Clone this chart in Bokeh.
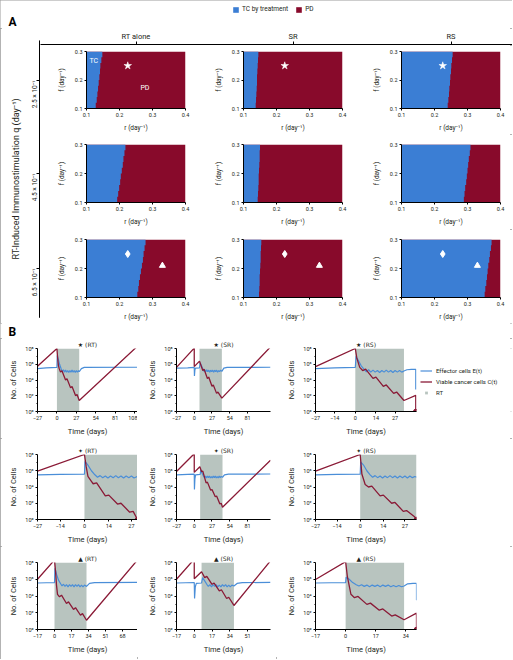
import math
from bokeh.plotting import figure
from bokeh.layouts import column, row
from bokeh.models import (Range1d, FixedTicker, Legend, LegendItem, Label,
                          Arrow, NormalHead)
from bokeh.embed import file_html
from bokeh.resources import INLINE

FONT = "Roboto"
TXT = "#231f20"
HM_BLUE = "#3b7ed4"
HM_RED = "#880a2b"
LN_BLUE = "#4a8ed8"
LN_RED = "#8a1a36"
RT_GREY = "#b8c4bf"
NAN = float("nan")

# ---------------------------------------------------------------- data (A)
legend_top = ["TC by treatment", "PD"]
strategies = ["RT alone", "SR", "RS"]
q_labels = ["2.5 × 10⁻¹", "4.5 × 10⁻¹", "6.5 × 10⁻¹"]
q_title = "RT-Induced Immunostimulation q (day⁻¹)"
r_limits = [0.1, 0.4]
f_limits = [0.1, 0.3]
r_ticks = [0.1, 0.2, 0.3, 0.4]
f_ticks = [0.1, 0.2, 0.3]
f_edges = [0.10, 0.12, 0.14, 0.16, 0.18, 0.20, 0.22, 0.24, 0.26, 0.28, 0.30]

# TC / PD boundary (r value) in each f band, bottom to top
bound_q25_RT = [0.128, 0.131, 0.133, 0.135, 0.137, 0.139, 0.141, 0.142, 0.145, 0.148]
bound_q25_SR = [0.137, 0.138, 0.139, 0.140, 0.141, 0.141, 0.142, 0.143, 0.144, 0.145]
bound_q25_RS = [0.240, 0.242, 0.244, 0.245, 0.247, 0.248, 0.250, 0.251, 0.253, 0.255]
bound_q45_RT = [0.193, 0.196, 0.199, 0.202, 0.204, 0.207, 0.210, 0.212, 0.215, 0.218]
bound_q45_SR = [0.143, 0.144, 0.145, 0.146, 0.146, 0.147, 0.148, 0.149, 0.149, 0.150]
bound_q45_RS = [0.289, 0.291, 0.293, 0.296, 0.298, 0.300, 0.302, 0.304, 0.307, 0.309]
bound_q65_RT = [0.254, 0.257, 0.259, 0.262, 0.265, 0.268, 0.271, 0.273, 0.276, 0.279]
bound_q65_SR = [0.147, 0.148, 0.149, 0.149, 0.150, 0.151, 0.152, 0.152, 0.153, 0.154]
bound_q65_RS = [0.352, 0.354, 0.357, 0.359, 0.361, 0.363, 0.366, 0.368, 0.371, 0.373]

star_rf = [0.225, 0.25]
diamond_rf = [0.225, 0.25]
triangle_rf = [0.33, 0.21]
tc_text_rf = [0.122, 0.267]
pd_text_rf = [0.277, 0.171]

# ---------------------------------------------------------------- data (B)
cell_ticks = [1, 1e2, 1e4, 1e6, 1e8]
cell_tick_labels = ["10⁰", "10²", "10⁴", "10⁶", "10⁸"]
cell_minor = [10, 1e3, 1e5, 1e7]
series_names = ["Effector cells E(t)", "Viable cancer cells C(t)", "RT"]

ticks_27_long = [-27, 0, 27, 54, 81, 108]
ticks_27_mid = [-27, 0, 27, 54, 81]
ticks_27_short = [-27, -14, 0, 14, 27]
ticks_17_long = [-17, 0, 17, 34, 51, 68]
ticks_17_mid = [-17, 0, 17, 34, 51]
ticks_17_short = [-17, 0, 17, 34]

# (time in days, log10 of number of cells)
C_star_RT = [(-27, 5.75), (0, 8.0), (1, 6.8), (2, 5.9), (3, 5.5), (5, 5.0), (7, 5.17), (12, 4.0),
             (14, 4.17), (19, 3.0), (21, 3.17), (26, 2.0), (28, 2.17), (31, 1.4), (112, 8.3)]
E_star_RT = [(-27, 5.45), (-15, 5.55), (0, 5.6), (0.5, 7.1), (2, 6.6), (4, 5.9), (6, 5.4), (7.5, 5.05),
             (9, 5.3), (10.5, 5.0), (12, 5.25), (13.5, 5.0), (15, 5.2), (16.5, 4.95), (18, 5.2),
             (19.5, 5.0), (21, 5.25), (22.5, 5.0), (24, 5.2), (25.5, 4.95), (27, 5.2), (28.5, 5.0),
             (30, 5.2), (31, 5.05), (34, 5.45), (38, 5.6), (112, 5.62)]
C_star_SR = [(-27, 5.6), (0, 8.05), (0, 5.7), (8, 6.4), (13, 5.2), (15, 5.37), (20, 4.2), (22, 4.37),
             (27, 3.2), (29, 3.37), (34, 2.3), (36, 2.47), (42, 1.7), (116, 8.2)]
E_star_SR = [(-27, 5.5), (-10, 5.55), (0, 5.6), (0.3, 4.5), (1, 5.3), (2, 5.5), (8, 5.55), (9, 6.2),
             (11, 5.8), (13, 5.4), (14.5, 5.1), (16, 5.3), (17.5, 5.05), (19, 5.3), (20.5, 5.05),
             (22, 5.25), (23.5, 5.0), (25, 5.25), (26.5, 5.05), (28, 5.25), (29.5, 5.0), (31, 5.25),
             (32.5, 5.05), (34, 5.25), (35.5, 5.0), (37, 5.2), (38.5, 5.05), (40, 5.25), (42, 5.1),
             (45, 5.5), (50, 5.6), (116, 5.62)]
C_star_RS = [(-27, 5.7), (0, 8.0), (1, 6.8), (3, 5.6), (5, 5.2), (7, 5.37), (12, 4.2), (14, 4.37),
             (19, 3.2), (21, 3.37), (26, 2.3), (28, 2.47), (33, 1.4), (41, 2.05), (41, 0.0)]
E_star_RS = [(-27, 5.45), (-14, 5.55), (0, 5.6), (0.5, 7.0), (2, 6.5), (4, 5.8), (6, 5.35), (7.5, 5.05),
             (9, 5.3), (10.5, 5.0), (12, 5.25), (13.5, 5.0), (15, 5.2), (16.5, 4.95), (18, 5.2),
             (19.5, 5.0), (21, 5.25), (22.5, 5.0), (24, 5.2), (25.5, 4.95), (27, 5.2), (28.5, 5.0),
             (30, 5.2), (31.5, 5.0), (33, 5.15), (35, 5.3), (38, 5.35), (41, 5.35), (41, 2.8)]
C_diam_RT = [(-27, 5.95), (0, 8.0), (1, 6.5), (2, 5.3), (4, 4.7), (5, 4.4), (7, 4.5), (12, 2.9),
             (14, 3.0), (19, 1.9), (21, 2.0), (26, 0.9), (28, 1.0), (30.5, 0.0)]
E_diam_RT = [(-27, 5.5), (-14, 5.55), (0, 5.58), (0.3, 7.15), (2, 6.7), (4, 6.0), (6, 5.5), (7.5, 5.2),
             (9, 5.4), (10.5, 5.15), (12, 5.35), (13.5, 5.1), (15, 5.35), (16.5, 5.15), (18, 5.4),
             (19.5, 5.15), (21, 5.35), (22.5, 5.1), (24, 5.35), (25.5, 5.15), (27, 5.35), (28.5, 5.1),
             (30.5, 5.3)]
C_diam_SR = [(-27, 5.9), (0, 8.1), (0, 5.8), (8.5, 6.5), (11, 5.9), (13, 5.95), (18, 4.5), (20, 4.6),
             (25, 3.6), (27, 3.7), (32, 2.8), (34, 2.9), (39, 1.9), (41, 2.0), (43, 1.5), (116, 7.3)]
E_diam_SR = [(-27, 5.5), (-10, 5.55), (0, 5.58), (0.3, 3.7), (1, 5.0), (2, 5.5), (9, 5.55), (10, 6.1),
             (12, 5.7), (14, 5.35), (15.5, 5.15), (17, 5.35), (18.5, 5.1), (20, 5.35), (21.5, 5.15),
             (23, 5.35), (24.5, 5.1), (26, 5.3), (27.5, 5.1), (29, 5.35), (30.5, 5.15), (32, 5.35),
             (33.5, 5.1), (35, 5.3), (36.5, 5.1), (38, 5.35), (39.5, 5.15), (41, 5.3), (43, 5.2),
             (46, 5.5), (52, 5.58), (116, 5.6)]
C_diam_RS = [(-27, 5.95), (0, 8.0), (1, 5.6), (3, 4.3), (5, 4.0), (7, 4.1), (12, 2.9), (14, 3.0),
             (19, 2.0), (21, 2.1), (26, 1.0), (28, 1.1), (33, 0.3), (34, 0.0)]
E_diam_RS = [(-27, 5.5), (-14, 5.55), (0, 5.58), (0.3, 7.1), (2, 6.7), (4, 6.0), (6, 5.5), (7.5, 5.2),
             (9, 5.4), (10.5, 5.15), (12, 5.35), (13.5, 5.1), (15, 5.35), (16.5, 5.15), (18, 5.4),
             (19.5, 5.15), (21, 5.35), (22.5, 5.1), (24, 5.35), (25.5, 5.15), (27, 5.35), (28.5, 5.1),
             (30, 5.35), (31.5, 5.15), (33, 5.3), (34, 5.2)]
C_tri_RT = [(-17, 6.0), (0, 8.3), (1, 7.0), (2, 5.3), (3, 4.2), (5, 3.9), (7, 4.1), (12, 3.1), (14, 3.3),
            (19, 2.4), (21, 2.6), (26, 1.7), (28, 1.9), (32, 1.1), (83, 8.3)]
E_tri_RT = [(-17, 5.55), (-8, 5.58), (0, 5.6), (0.5, 7.3), (2, 6.6), (4, 5.9), (6, 5.5), (7.5, 5.2),
            (9, 5.4), (10.5, 5.15), (12, 5.35), (13.5, 5.1), (15, 5.35), (16.5, 5.15), (18, 5.35),
            (19.5, 5.1), (21, 5.35), (22.5, 5.15), (24, 5.35), (25.5, 5.1), (27, 5.3), (28.5, 5.1),
            (30, 5.3), (32, 5.15), (35, 5.5), (40, 5.6), (83, 5.62)]
C_tri_SR = [(-17, 6.0), (0, 8.4), (0, 6.05), (7, 6.9), (10, 6.2), (12, 6.35), (17, 5.4), (19, 5.55),
            (24, 4.6), (26, 4.75), (31, 3.7), (33, 3.85), (38, 2.87), (73, 8.2)]
E_tri_SR = [(-17, 5.55), (-8, 5.58), (0, 5.6), (0.3, 3.7), (1, 5.1), (2, 5.5), (7, 5.55), (8, 6.2),
            (10, 5.8), (12, 5.4), (13.5, 5.15), (15, 5.35), (16.5, 5.1), (18, 5.35), (19.5, 5.15),
            (21, 5.35), (22.5, 5.1), (24, 5.3), (25.5, 5.1), (27, 5.35), (28.5, 5.15), (30, 5.35),
            (31.5, 5.1), (33, 5.3), (34.5, 5.1), (36, 5.3), (38, 5.2), (41, 5.5), (46, 5.6), (73, 5.62)]
C_tri_RS = [(-17, 5.97), (0, 8.1), (1, 6.3), (3, 4.2), (5, 3.8), (7, 3.95), (12, 3.0), (14, 3.15),
            (19, 2.3), (21, 2.45), (26, 1.6), (28, 1.75), (33, 1.16), (40, 1.95), (40, 0.0)]
E_tri_RS = [(-17, 5.55), (-8, 5.58), (0, 5.6), (0.3, 6.25), (2, 6.0), (4, 5.6), (6, 5.35), (7.5, 5.2),
            (9, 5.35), (10.5, 5.15), (12, 5.3), (13.5, 5.1), (15, 5.3), (16.5, 5.15), (18, 5.3),
            (19.5, 5.1), (21, 5.3), (22.5, 5.15), (24, 5.3), (25.5, 5.1), (27, 5.25), (28.5, 5.1),
            (30, 5.25), (31.5, 5.1), (33, 5.2), (35, 5.45), (38, 5.5), (40, 5.5), (40, 3.5)]

rt_star = [(0, 31), (8, 42), (0, 33)]
rt_diam = [(0, 30.5), (9, 43), (0, 34)]
rt_tri = [(0, 32), (7, 38), (0, 33)]
trange_star = [(-27, 112), (-27, 116), (-27, 41.5)]
trange_diam = [(-27, 30.5), (-27, 116), (-27, 34)]
trange_tri = [(-17, 83), (-17, 73), (-17, 40)]
extinct_star = [None, None, 41]
extinct_diam = [30.5, None, 34]
extinct_tri = [None, None, 40]
marker_symbols = ["★", "✦", "▲"]
strategy_codes = ["RT", "SR", "RS"]

# ---------------------------------------------------------------- layout (px)
PAGE_W = 512
A_H = 28
HDR_H, HDR_BT = 17, 12
LS_W = 40
HM_W = [157, 157, 158]
HM_BL = [46, 46, 47]
HM_BR = [12, 12, 12]
HM_H = [89, 95, 94]
HM_BT = [6, 10, 10]
HM_BB = [25, 27, 26]
B_H = 15
TB_W = [[137, 139, 141], [137, 139, 236], [137, 139, 236]]
TB_BL = [37, 39, 39]
TB_BR = [[0, 6, 1], [0, 6, 96], [0, 6, 96]]
LEG_W = 95
TB_H = [100, 108, 113]
TB_BT = [8, 16, 16]
TB_BB = [25, 25, 30]


def style_axis(ax, label_size="5.5px", title_size="6.5px"):
    ax.axis_line_color = "black"
    ax.major_tick_line_color = "black"
    ax.minor_tick_line_color = "black"
    ax.major_label_text_font = FONT
    ax.major_label_text_font_size = label_size
    ax.major_label_text_color = TXT
    ax.axis_label_text_font = FONT
    ax.axis_label_text_font_size = title_size
    ax.axis_label_text_font_style = "normal"
    ax.axis_label_text_color = TXT


def blank_strip(width, height):
    p = figure(width=width, height=height, output_backend="svg", toolbar_location=None,
               x_range=Range1d(0, 1), y_range=Range1d(0, 1),
               x_axis_location=None, y_axis_location=None,
               min_border_left=0, min_border_right=0, min_border_top=0, min_border_bottom=0)
    p.outline_line_color = None
    p.grid.visible = False
    return p


# ---------------------------------------------------------------- "A" strip with legend
a_strip = blank_strip(PAGE_W, A_H)
r_tc = a_strip.quad(left=[NAN], right=[NAN], top=[NAN], bottom=[NAN], fill_color=HM_BLUE, line_color=None)
r_pd = a_strip.quad(left=[NAN], right=[NAN], top=[NAN], bottom=[NAN], fill_color=HM_RED, line_color=None)
leg_top = Legend(items=[LegendItem(label=legend_top[0], renderers=[r_tc]),
                        LegendItem(label=legend_top[1], renderers=[r_pd])],
                 orientation="horizontal", location=(232, 15),
                 label_text_font=FONT, label_text_font_size="6.5px", label_text_color=TXT,
                 label_height=7, glyph_width=7, glyph_height=7, label_standoff=3, spacing=7,
                 padding=0, margin=0, border_line_color=None, background_fill_alpha=0)
a_strip.add_layout(leg_top)
a_strip.add_layout(Label(x=8, y=0, x_units="screen", y_units="screen", text="A",
                         text_font=FONT, text_font_style="bold", text_font_size="12px",
                         text_color="black", text_baseline="bottom", text_align="left"))

# ---------------------------------------------------------------- header strip (strategies)
hm_frame_w = [HM_W[i] - HM_BL[i] - HM_BR[i] for i in range(3)]
col_centers = []
x0 = LS_W
for i in range(3):
    col_centers.append(x0 + HM_BL[i] + hm_frame_w[i] / 2.0)
    x0 += HM_W[i]
header = figure(width=PAGE_W - LS_W, height=HDR_H, output_backend="svg", toolbar_location=None,
                x_range=Range1d(LS_W, PAGE_W), y_range=Range1d(0, 1),
                x_axis_location="above", y_axis_location=None,
                min_border_left=0, min_border_right=0, min_border_top=HDR_BT, min_border_bottom=0)
header.outline_line_color = None
header.grid.visible = False
header.xaxis.ticker = FixedTicker(ticks=col_centers)
header.xaxis.major_label_overrides = {c: s for c, s in zip(col_centers, strategies)}
style_axis(header.xaxis[0], label_size="7.5px")
header.xaxis.major_tick_out = 3
header.xaxis.major_tick_in = 0
header.xaxis.major_label_standoff = 1
header.xaxis.minor_tick_line_color = None

# ---------------------------------------------------------------- left strip (q axis)
ls_h = HDR_H + sum(HM_H)
ls_top = HDR_BT
ls_bottom_pad = 6
row_centers = []
y0 = HDR_H
for i in range(3):
    row_centers.append(y0 + HM_BT[i] + (HM_H[i] - HM_BT[i] - HM_BB[i]) / 2.0)
    y0 += HM_H[i]
left = figure(width=LS_W, height=ls_h, output_backend="svg", toolbar_location=None,
              x_range=Range1d(0, 1),
              y_range=Range1d(ls_h - ls_bottom_pad, ls_top),
              x_axis_location=None, y_axis_location="left",
              min_border_left=LS_W - 1, min_border_right=0, min_border_top=ls_top,
              min_border_bottom=ls_bottom_pad)
left.outline_line_color = None
left.grid.visible = False
left.yaxis.ticker = FixedTicker(ticks=row_centers)
left.yaxis.major_label_overrides = {c: s for c, s in zip(row_centers, q_labels)}
left.yaxis.major_label_orientation = math.pi / 2
left.yaxis.axis_label = q_title
style_axis(left.yaxis[0], label_size="6.5px", title_size="9px")
left.yaxis.major_tick_out = 3
left.yaxis.major_tick_in = 0
left.yaxis.major_label_standoff = 2
left.yaxis.axis_label_standoff = 3
left.yaxis.minor_tick_line_color = None
left.add_layout(Arrow(end=NormalHead(size=5, fill_color="black", line_color="black"),
                      x_start=left.x_range.start, y_start=left.y_range.end,
                      x_end=left.x_range.start, y_end=left.y_range.start,
                      line_color="black", line_width=1))

# ---------------------------------------------------------------- heat maps
heat_bounds = [[bound_q25_RT, bound_q25_SR, bound_q25_RS],
               [bound_q45_RT, bound_q45_SR, bound_q45_RS],
               [bound_q65_RT, bound_q65_SR, bound_q65_RS]]


def heat_panel(ri, ci):
    bounds = heat_bounds[ri][ci]
    p = figure(width=HM_W[ci], height=HM_H[ri], output_backend="svg", toolbar_location=None,
               x_range=Range1d(*r_limits), y_range=Range1d(*f_limits),
               min_border_left=HM_BL[ci], min_border_right=HM_BR[ci],
               min_border_top=HM_BT[ri], min_border_bottom=HM_BB[ri])
    p.outline_line_color = None
    p.grid.visible = False
    # PD everywhere, TC region (staircase) on top
    p.quad(left=[r_limits[0]], right=[r_limits[1]], bottom=[f_limits[0]], top=[f_limits[1]],
           fill_color=HM_RED, line_color=None)
    xs, ys = [r_limits[0]], [f_edges[0]]
    for i, b in enumerate(bounds):
        xs += [b, b]
        ys += [f_edges[i], f_edges[i + 1]]
    xs.append(r_limits[0])
    ys.append(f_edges[-1])
    p.patch(xs, ys, fill_color=HM_BLUE, line_color=None)
    if ri == 0:
        p.scatter(x=[star_rf[0]], y=[star_rf[1]], marker="star", size=8,
                  fill_color="white", line_color="white", line_width=0.5)
    if ri == 2:
        p.scatter(x=[diamond_rf[0]], y=[diamond_rf[1]], marker="diamond", size=7,
                  fill_color="white", line_color="white")
        p.scatter(x=[triangle_rf[0]], y=[triangle_rf[1]], marker="triangle", size=6,
                  fill_color="white", line_color="white")
    if ri == 0 and ci == 0:
        for txt, pos in (("TC", tc_text_rf), ("PD", pd_text_rf)):
            p.add_layout(Label(x=pos[0], y=pos[1], text=txt, text_font=FONT, text_font_size="7px",
                               text_color="white", text_align="center", text_baseline="middle"))
    p.xaxis.ticker = FixedTicker(ticks=r_ticks)
    p.yaxis.ticker = FixedTicker(ticks=f_ticks)
    p.xaxis.axis_label = "r (day⁻¹)"
    p.yaxis.axis_label = "f (day⁻¹)"
    for ax in (p.xaxis[0], p.yaxis[0]):
        style_axis(ax)
        ax.major_tick_out = 2
        ax.major_tick_in = 0
        ax.major_label_standoff = 2
        ax.minor_tick_line_color = None
    p.xaxis.axis_label_standoff = 4
    p.yaxis.axis_label_standoff = 6
    return p


heat_rows = [row(*[heat_panel(ri, ci) for ci in range(3)]) for ri in range(3)]
mid = row(left, column(header, *heat_rows))

# ---------------------------------------------------------------- "B" strip
b_strip = blank_strip(PAGE_W, B_H)
b_strip.add_layout(Label(x=8, y=0, x_units="screen", y_units="screen", text="B",
                         text_font=FONT, text_font_style="bold", text_font_size="12px",
                         text_color="black", text_baseline="bottom", text_align="left"))

# ---------------------------------------------------------------- time courses
C_all = [[C_star_RT, C_star_SR, C_star_RS], [C_diam_RT, C_diam_SR, C_diam_RS], [C_tri_RT, C_tri_SR, C_tri_RS]]
E_all = [[E_star_RT, E_star_SR, E_star_RS], [E_diam_RT, E_diam_SR, E_diam_RS], [E_tri_RT, E_tri_SR, E_tri_RS]]
rt_all = [rt_star, rt_diam, rt_tri]
tr_all = [trange_star, trange_diam, trange_tri]
ext_all = [extinct_star, extinct_diam, extinct_tri]
ticks_all = [[ticks_27_long, ticks_27_mid, ticks_27_short],
             [ticks_27_short, ticks_27_mid, ticks_27_short],
             [ticks_17_long, ticks_17_mid, ticks_17_short]]


def time_panel(ri, ci):
    p = figure(width=TB_W[ri][ci], height=TB_H[ri], output_backend="svg", toolbar_location=None,
               x_range=Range1d(*tr_all[ri][ci]), y_range=Range1d(cell_ticks[0], cell_ticks[-1]),
               y_axis_type="log",
               min_border_left=TB_BL[ci], min_border_right=TB_BR[ri][ci],
               min_border_top=TB_BT[ri], min_border_bottom=TB_BB[ri])
    p.outline_line_color = None
    p.grid.visible = False
    rt0, rt1 = rt_all[ri][ci]
    p.quad(left=[rt0], right=[rt1], bottom=[cell_ticks[0]], top=[cell_ticks[-1]],
           fill_color=RT_GREY, line_color=None)
    E = E_all[ri][ci]
    C = C_all[ri][ci]
    p.line(x=[t for t, _ in E], y=[10 ** v for _, v in E], line_color=LN_BLUE, line_width=1.2)
    p.line(x=[t for t, _ in C], y=[10 ** v for _, v in C], line_color=LN_RED, line_width=1.3)
    ext = ext_all[ri][ci]
    if ext is not None:
        p.scatter(x=[ext], y=[cell_ticks[0]], size=4.5, fill_color=LN_RED, line_color=LN_RED)
    p.title.text = marker_symbols[ri] + " (" + strategy_codes[ci] + ")"
    p.title.align = "center"
    p.title.text_font = "DejaVu Sans"
    p.title.text_font_size = "6px"
    p.title.text_font_style = "normal"
    p.title.text_color = TXT
    p.title.standoff = 1
    ticks = ticks_all[ri][ci]
    p.xaxis.ticker = FixedTicker(ticks=ticks)
    p.xaxis.major_label_overrides = {t: str(t).replace("-", "−") for t in ticks}
    p.yaxis.ticker = FixedTicker(ticks=cell_ticks, minor_ticks=cell_minor)
    p.yaxis.major_label_overrides = {v: s for v, s in zip(cell_ticks, cell_tick_labels)}
    p.xaxis.axis_label = "Time (days)"
    p.yaxis.axis_label = "No. of Cells"
    for ax in (p.xaxis[0], p.yaxis[0]):
        style_axis(ax, label_size="5.5px", title_size="7.5px")
        ax.major_tick_out = 2
        ax.major_tick_in = 0
        ax.minor_tick_out = 1
        ax.minor_tick_in = 0
        ax.major_label_standoff = 2
    p.xaxis.axis_label_standoff = 4
    p.yaxis.axis_label_standoff = 4
    return p


# legend for the time courses (to the right of the first row)
leg_fig = blank_strip(LEG_W, TB_H[0])
le = leg_fig.line(x=[NAN], y=[NAN], line_color=LN_BLUE, line_width=1.2)
lc = leg_fig.line(x=[NAN], y=[NAN], line_color=LN_RED, line_width=1.3)
lr = leg_fig.scatter(x=[NAN], y=[NAN], marker="square", size=7, fill_color=RT_GREY, line_color=None)
leg_b = Legend(items=[LegendItem(label=series_names[0], renderers=[le]),
                     LegendItem(label=series_names[1], renderers=[lc]),
                     LegendItem(label=series_names[2], renderers=[lr])],
               location=(3, 15), label_text_font=FONT, label_text_font_size="6px",
               label_text_color=TXT, label_height=7, glyph_width=12, glyph_height=7,
               label_standoff=4, spacing=4, padding=0, margin=0, border_line_color=None,
               background_fill_alpha=0)
leg_fig.add_layout(leg_b)

time_rows = []
for ri in range(3):
    figs = [time_panel(ri, ci) for ci in range(3)]
    if ri == 0:
        figs.append(leg_fig)
    time_rows.append(row(*figs))

root = column(a_strip, mid, b_strip, *time_rows,
              styles={"outline": "2px solid #9a9a9a", "outline-offset": "-2px"})
open("out.html", "w").write(file_html(root, INLINE))
